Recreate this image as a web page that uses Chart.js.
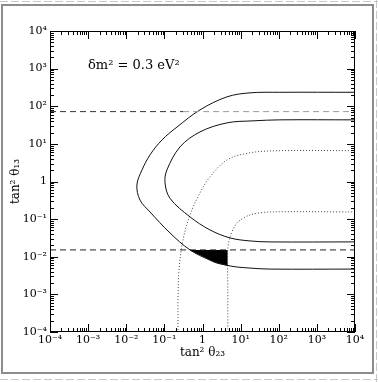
<!DOCTYPE html>
<html>
<head>
<meta charset="utf-8">
<script src="https://cdn.jsdelivr.net/npm/chart.js@4.4.0/dist/chart.umd.min.js"></script>
<style>
  html, body { margin: 0; padding: 0; background: #fff; }
</style>
</head>
<body>
<canvas id="chart" width="378" height="382"></canvas>
<script>
// decade ticks, both axes
const tickValues = [1e-4, 1e-3, 1e-2, 1e-1, 1, 1e1, 1e2, 1e3, 1e4];
const tickLabels = ['10⁻⁴', '10⁻³', '10⁻²', '10⁻¹', '1', '10¹', '10²', '10³', '10⁴'];

// outer solid contour (C shape)
const outerX = [1e4, 107, 17.6, 4.4, 0.86, 0.214, 0.087, 0.042, 0.026, 0.019, 0.023, 0.042, 0.14, 0.47, 1.57, 5.3, 17.6, 59, 1e4];
const outerY = [235, 235, 227, 178, 80, 28, 12.8, 5.1, 2.04, 0.81, 0.32, 0.155, 0.043, 0.0152, 0.0082, 0.0057, 0.0050, 0.0047, 0.0047];

// inner solid contour
const innerX = [1e4, 107, 21.1, 4.4, 0.86, 0.257, 0.117, 0.104, 0.141, 0.47, 1.57, 5.3, 17.6, 59, 1e4];
const innerY = [43.5, 43.5, 40.9, 36.2, 20.8, 8.3, 2.04, 0.92, 0.355, 0.115, 0.0516, 0.0316, 0.0263, 0.0248, 0.0248];

// dotted contours
const dotOuterX = [1e4, 107, 17.6, 4.4, 1.57, 0.86, 0.47, 0.308, 0.242, 0.228, 0.228];
const dotOuterY = [6.6, 6.6, 5.8, 3.75, 1.32, 0.50, 0.129, 0.028, 0.00445, 0.00071, 1e-4];
const dotInnerX = [1e4, 59, 17.6, 8.0, 5.3, 4.6, 4.6, 4.6];
const dotInnerY = [0.155, 0.155, 0.129, 0.079, 0.0337, 0.0152, 0.0013, 1e-4];

// black allowed region (lower edge of outer contour, filled up to dashLow)
const fillX = [0.47, 1.0, 2.2, 4.6];
const fillY = [0.0152, 0.0105, 0.0070, 0.0059];

// horizontal dashed limits
const dashHigh = 72;
const dashLow = 0.0152;

const toPts = (xs, ys) => xs.map((x, i) => ({ x: x, y: ys[i] }));

const serif = 'DejaVu Serif';

const framePlugin = {
  id: 'frame',
  beforeDraw(chart) {
    const ctx = chart.ctx;
    ctx.save();
    ctx.fillStyle = '#fff';
    ctx.fillRect(0, 0, chart.width, chart.height);
    // scanned page border
    ctx.strokeStyle = '#8c8c8c';
    ctx.lineWidth = 2;
    ctx.strokeRect(2, 5, 371, 368);
    ctx.strokeStyle = '#c8c8c8';
    ctx.lineWidth = 1;
    ctx.setLineDash([8, 3]);
    ctx.beginPath();
    ctx.moveTo(0, 1.5); ctx.lineTo(378, 1.5);
    ctx.moveTo(0, 379.5); ctx.lineTo(378, 379.5);
    ctx.moveTo(376.5, 0); ctx.lineTo(376.5, 382);
    ctx.stroke();
    ctx.restore();
  },
  afterDraw(chart) {
    const ctx = chart.ctx;
    const a = chart.chartArea;
    const xs = chart.scales.x, ys = chart.scales.y;
    ctx.save();
    ctx.strokeStyle = '#000';
    ctx.lineWidth = 1;
    ctx.strokeRect(a.left + 0.5, a.top + 0.5, a.right - a.left - 1, a.bottom - a.top - 1);

    // inward ticks on all four sides
    ctx.beginPath();
    for (let d = -4; d <= 4; d++) {
      for (let k = 1; k <= 9; k++) {
        const v = k * Math.pow(10, d);
        if (v > 1e4 * 1.0001) break;
        const len = k === 1 ? 8 : 4;
        const px = Math.round(xs.getPixelForValue(v)) + 0.5;
        const py = Math.round(ys.getPixelForValue(v)) + 0.5;
        ctx.moveTo(px, a.bottom); ctx.lineTo(px, a.bottom - len);
        ctx.moveTo(px, a.top); ctx.lineTo(px, a.top + len);
        ctx.moveTo(a.left, py); ctx.lineTo(a.left + len, py);
        ctx.moveTo(a.right, py); ctx.lineTo(a.right - len, py);
      }
    }
    ctx.stroke();

    ctx.fillStyle = '#000';
    ctx.font = '13px "' + serif + '"';
    ctx.textBaseline = 'alphabetic';
    ctx.fillText('δm² = 0.3 eV²', 88, 69);
    ctx.restore();
  }
};

new Chart(document.getElementById('chart'), {
  type: 'line',
  data: {
    datasets: [
      {
        data: toPts([1e-4, 0.31, 1e4], [dashHigh, dashHigh, dashHigh]),
        borderColor: '#333',
        segment: { borderColor: c => c.p0DataIndex === 0 ? '#333' : '#999' },
        borderDash: [6, 4], borderWidth: 1, pointRadius: 0, tension: 0
      },
      {
        data: toPts([1e-4, 1e4], [dashLow, dashLow]),
        borderColor: '#222', borderDash: [6, 4], borderWidth: 1, pointRadius: 0, tension: 0
      },
      {
        data: toPts(outerX, outerY),
        borderColor: '#111', borderWidth: 1, pointRadius: 0, tension: 0.35
      },
      {
        data: toPts(innerX, innerY),
        borderColor: '#111', borderWidth: 1, pointRadius: 0, tension: 0.35
      },
      {
        data: toPts(dotOuterX, dotOuterY),
        borderColor: '#444', borderDash: [1, 2], borderWidth: 1, pointRadius: 0, tension: 0.35
      },
      {
        data: toPts(dotInnerX, dotInnerY),
        borderColor: '#444', borderDash: [1, 2], borderWidth: 1, pointRadius: 0, tension: 0.3
      },
      {
        data: toPts(fillX, fillY),
        borderColor: '#000', backgroundColor: '#000', borderWidth: 1, pointRadius: 0,
        tension: 0.3, fill: { value: dashLow }
      }
    ]
  },
  options: {
    responsive: false,
    animation: false,
    events: [],
    layout: { padding: { left: 0, top: 31, right: 23, bottom: 0 } },
    plugins: { legend: { display: false }, tooltip: { enabled: false } },
    scales: {
      x: {
        type: 'logarithmic', min: 1e-4, max: 1e4,
        afterBuildTicks: s => { s.ticks = tickValues.map(v => ({ value: v })); },
        afterFit: s => { s.height = 50; },
        grid: { display: false, drawTicks: false },
        border: { display: false },
        ticks: {
          autoSkip: false, maxRotation: 0, padding: 2, color: '#000',
          font: { family: serif, size: 11 },
          callback: (v, i) => tickLabels[i]
        },
        title: {
          display: true, text: 'tan² θ₂₃', color: '#000',
          font: { family: serif, size: 12 }, padding: { top: 0, bottom: 22 }
        }
      },
      y: {
        type: 'logarithmic', min: 1e-4, max: 1e4,
        afterBuildTicks: s => { s.ticks = tickValues.map(v => ({ value: v })); },
        afterFit: s => { s.width = 50; },
        grid: { display: false, drawTicks: false },
        border: { display: false },
        ticks: {
          autoSkip: false, padding: 3, color: '#000',
          font: { family: serif, size: 11 },
          callback: (v, i) => tickLabels[i]
        },
        title: {
          display: true, text: 'tan² θ₁₃', color: '#000',
          font: { family: serif, size: 12 }, padding: { top: 9, bottom: 0 }
        }
      }
    }
  },
  plugins: [framePlugin]
});
</script>
</body>
</html>
